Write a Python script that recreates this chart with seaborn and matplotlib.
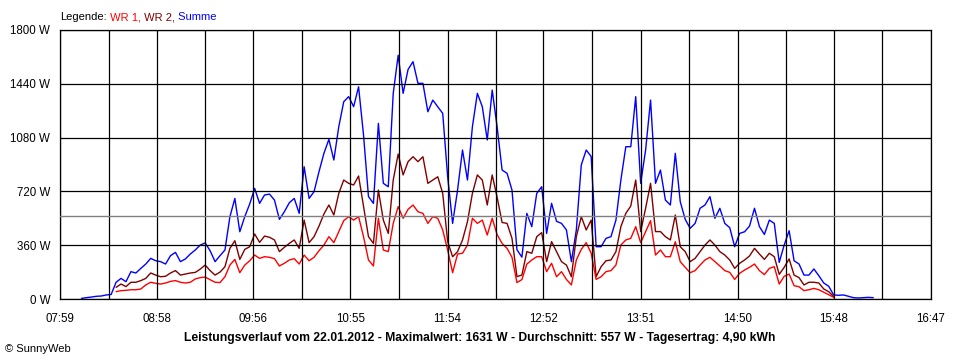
import matplotlib
matplotlib.use("Agg")
import matplotlib.pyplot as plt
import seaborn as sns
import numpy as np
import pandas as pd

# ---------------- data ----------------
summe_start = "08:12"      # first sample of "Summe"
wr_start = "08:33"         # first sample of WR 1 / WR 2
interval_min = 3           # sampling interval in minutes

summe = [4, 9, 13, 18, 20, 27, 30, 112, 138, 116,
         183, 174, 205, 234, 272, 256, 250, 234, 290, 312,
         250, 268, 301, 328, 361, 375, 323, 250, 290, 328,
         551, 673, 450, 551, 636, 740, 640, 696, 702, 662,
         533, 584, 644, 673, 573, 885, 673, 718, 852, 975,
         1068, 930, 1153, 1320, 1354, 1287, 1420, 1097, 685, 640,
         1175, 774, 751, 1376, 1631, 1376, 1536, 1588, 1443, 1443,
         1253, 1331, 1287, 1242, 818, 506, 729, 997, 796, 1153,
         1376, 1287, 1064, 1398, 1150, 863, 841, 729, 330, 280,
         573, 484, 707, 751, 439, 640, 520, 506, 462, 250,
         462, 897, 997, 953, 350, 350, 406, 417, 528, 796,
         1019, 1019, 1354, 774, 997, 1331, 774, 863, 662, 629,
         975, 651, 533, 473, 506, 607, 629, 685, 540, 607,
         506, 477, 350, 439, 450, 488, 607, 484, 432, 528,
         506, 245, 361, 457, 256, 234, 160, 160, 201, 156,
         107, 85, 27, 25, 27, 18, 9, 7, 9, 11, 9]

wr2 = [78, 100, 83, 112, 112, 123, 138, 174, 160, 149,
       152, 174, 190, 160, 167, 174, 178, 200, 227, 190,
       160, 180, 216, 339, 390, 265, 332, 350, 435, 379,
       421, 413, 395, 317, 346, 372, 395, 339, 528, 377,
       417, 488, 569, 629, 562, 707, 796, 774, 763, 823,
       618, 417, 372, 729, 528, 439, 796, 970, 830, 919,
       952, 919, 952, 774, 796, 818, 707, 384, 283, 317,
       395, 517, 707, 830, 796, 629, 830, 680, 512, 506,
       406, 150, 160, 317, 306, 417, 444, 250, 384, 317,
       250, 227, 149, 417, 551, 462, 528, 149, 216, 256,
       261, 317, 484, 573, 622, 796, 451, 607, 774, 451,
       451, 417, 395, 562, 350, 317, 250, 272, 317, 361,
       395, 361, 317, 294, 261, 205, 239, 261, 288, 339,
       301, 265, 306, 283, 165, 212, 268, 160, 143, 94,
       112, 112, 107, 67, 49, 16]

wr1 = [49, 56, 58, 62, 62, 67, 94, 112, 105, 100,
       107, 118, 123, 112, 107, 112, 134, 143, 147, 129,
       112, 110, 149, 227, 265, 176, 227, 256, 294, 272,
       283, 279, 270, 221, 239, 261, 270, 234, 294, 256,
       279, 323, 361, 417, 377, 450, 524, 551, 528, 551,
       417, 261, 221, 540, 328, 317, 506, 618, 540, 600,
       629, 584, 573, 506, 551, 540, 462, 328, 176, 301,
       306, 361, 540, 506, 528, 428, 540, 430, 372, 339,
       279, 110, 130, 234, 261, 283, 283, 183, 239, 149,
       183, 131, 94, 261, 332, 377, 306, 131, 149, 183,
       190, 227, 361, 395, 406, 484, 377, 451, 524, 294,
       328, 283, 283, 383, 250, 212, 176, 190, 227, 261,
       279, 250, 221, 190, 178, 131, 172, 194, 212, 234,
       190, 163, 205, 216, 100, 152, 167, 89, 82, 56,
       62, 71, 62, 45, 29, 11]

x_tick_labels = ["07:59", "08:58", "09:56", "10:55", "11:54",
                 "12:52", "13:51", "14:50", "15:48", "16:47"]
y_ticks = [0, 360, 720, 1080, 1440, 1800]
average_w = 557

legend_parts = [("Legende:", "black"), (" WR 1,", "#ff0000"),
                (" WR 2,", "#800000"), (" Summe", "#0000ff")]
title = ("Leistungsverlauf vom 22.01.2012 - Maximalwert: 1631 W - "
         "Durchschnitt: 557 W - Tagesertrag: 4,90 kWh")
credit = "\u00a9 SunnyWeb"

colors = {"WR 1": "#ff0000", "WR 2": "#800000", "Summe": "#0000ff"}


def to_min(s):
    h, m = s.split(":")
    return int(h) * 60 + int(m)


def series_frame(name, values, start):
    t = to_min(start) + interval_min * np.arange(len(values))
    return pd.DataFrame({"t": t, "W": values, "Serie": name})


df = pd.concat([series_frame("Summe", summe, summe_start),
                series_frame("WR 2", wr2, wr_start),
                series_frame("WR 1", wr1, wr_start)], ignore_index=True)

# ---------------- figure ----------------
sns.set_style("white")
plt.rcParams["font.family"] = ["Liberation Sans", "DejaVu Sans"]
plt.rcParams["font.size"] = 8

fig = plt.figure(figsize=(9.6, 3.6), dpi=100)
fig.patch.set_facecolor("white")
ax = fig.add_axes([60 / 960, 1 - 299 / 360, 871 / 960, 269 / 360])

sns.lineplot(data=df, x="t", y="W", hue="Serie",
             hue_order=["Summe", "WR 2", "WR 1"], palette=colors,
             estimator=None, sort=False, linewidth=1.0, legend=False, ax=ax)

ax.axhline(average_w, color="#808080", linewidth=1.0, zorder=2.6)

major = [to_min(s) for s in x_tick_labels]
minor = [(a + b) / 2 for a, b in zip(major[:-1], major[1:])]
ax.set_xlim(major[0], major[-1])
ax.set_ylim(y_ticks[0], y_ticks[-1])
ax.set_xticks(major)
ax.set_xticklabels(x_tick_labels)
ax.set_xticks(minor, minor=True)
ax.set_yticks(y_ticks)
ax.set_yticklabels([f"{v} W" for v in y_ticks])
ax.set_xlabel("")
ax.set_ylabel("")

ax.set_axisbelow(False)
ax.grid(True, which="both", color="black", linewidth=0.9)
for sp in ax.spines.values():
    sp.set_color("black")
    sp.set_linewidth(0.9)
ax.tick_params(which="both", direction="out", length=4, width=0.9,
               color="black", labelsize=8.3, labelcolor="black")
ax.tick_params(axis="x", which="major", pad=6)
ax.tick_params(axis="y", which="major", pad=3)

# footer texts
fig.text(0.4995, 1 - 338 / 360, title, ha="center", va="center",
         fontsize=8.7, fontweight="bold", color="black")
fig.text(5 / 960, 1 - 349 / 360, credit, ha="left", va="center",
         fontsize=8, color="black")

# multi-coloured legend line
renderer = fig.canvas.get_renderer()
x_px = 60
for txt, col in legend_parts:
    t = fig.text(x_px / 960, 1 - 17 / 360, txt, ha="left", va="center",
                 fontsize=8, color=col)
    bb = t.get_window_extent(renderer=renderer)
    x_px = bb.x1

fig.savefig("out.png", dpi=100, facecolor="white")
